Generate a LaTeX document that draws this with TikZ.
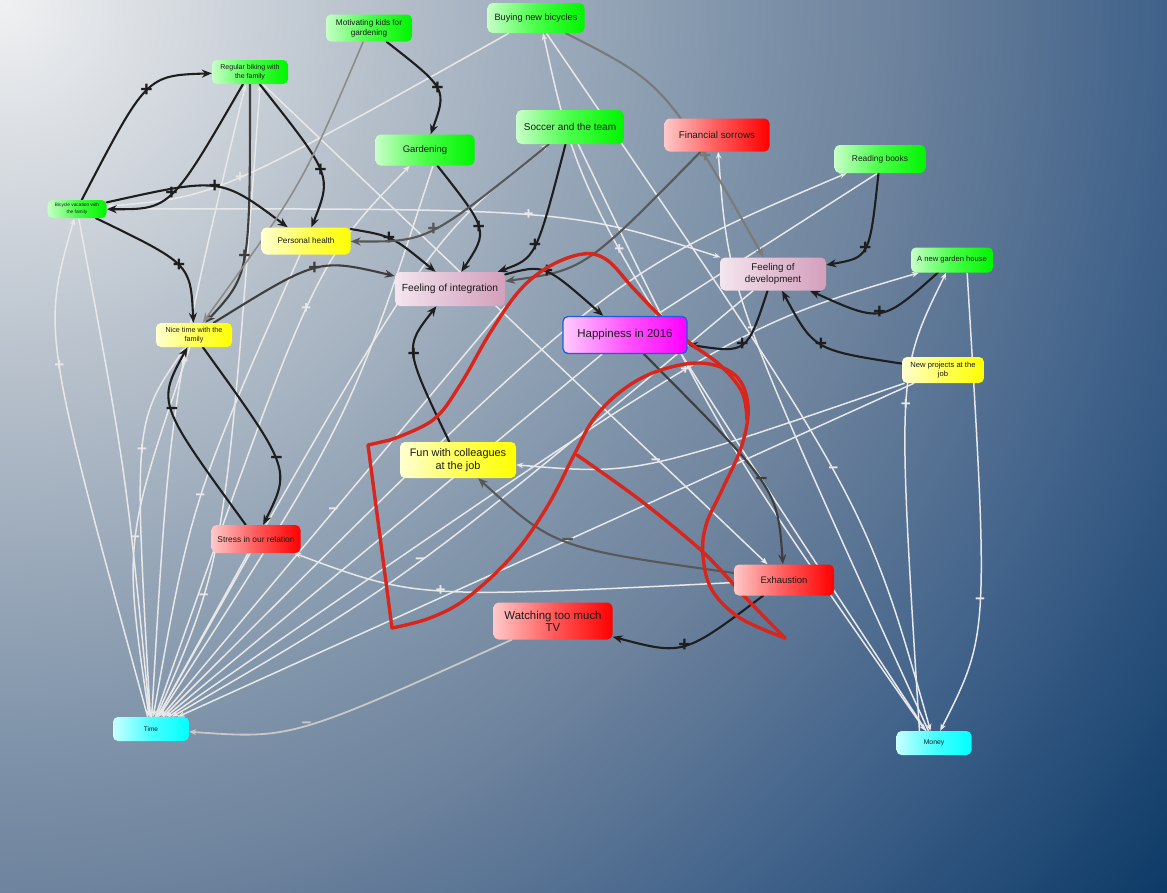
\documentclass[tikz,border=0pt]{standalone}
\usepackage{fontspec}
\setmainfont{Liberation Sans}
\usetikzlibrary{arrows.meta}
\pgfdeclarelayer{bglayer}
\pgfdeclarelayer{edgelayer}
\pgfsetlayers{bglayer,edgelayer,main}
\definecolor{bgA}{HTML}{F0F1F2}
\definecolor{bgB}{HTML}{B5BFCA}
\definecolor{bgC}{HTML}{8094AA}
\definecolor{bgD}{HTML}{6E839D}
\definecolor{bgE}{HTML}{3F6189}
\definecolor{bgF}{HTML}{0C3A66}
\definecolor{gL}{HTML}{C8FFC8}\definecolor{gM}{HTML}{48FF48}\definecolor{gR}{HTML}{00F500}
\definecolor{rL}{HTML}{FFC8C8}\definecolor{rM}{HTML}{FF5A5A}\definecolor{rR}{HTML}{FF0000}
\definecolor{yL}{HTML}{FFFFD2}\definecolor{yM}{HTML}{FFFF5A}\definecolor{yR}{HTML}{FFFF00}
\definecolor{pL}{HTML}{F4E6EE}\definecolor{pM}{HTML}{E2C0D4}\definecolor{pR}{HTML}{D49FBC}
\definecolor{mL}{HTML}{FFCCFF}\definecolor{mM}{HTML}{FF55FF}\definecolor{mR}{HTML}{FF00FF}\definecolor{mB}{HTML}{1A5FE0}
\definecolor{cL}{HTML}{C8FFFF}\definecolor{cM}{HTML}{48FFFF}\definecolor{cR}{HTML}{00FFFF}
\definecolor{txtc}{HTML}{1A1A1A}
\definecolor{blk}{HTML}{1E1E1E}
\definecolor{dgc}{HTML}{3E3E3E}
\definecolor{mgc}{HTML}{585858}
\definecolor{lgc}{HTML}{7A7A7A}
\definecolor{pgc}{HTML}{8C8C8C}
\definecolor{tvc}{HTML}{C8C8C8}
\definecolor{whc}{HTML}{E8E8E8}
\definecolor{redc}{HTML}{D8261C}
\pgfdeclareradialshading{bgrad}{\pgfpointorigin}{color(0bp)=(bgA); color(6.6bp)=(bgB); color(12.5bp)=(bgC); color(15.2bp)=(bgD); color(19.9bp)=(bgE); color(25bp)=(bgF); color(50bp)=(bgF)}
\newcommand\myfs[2]{\fontsize{#1}{#2}\selectfont}
\begin{document}
\begin{tikzpicture}[x=1pt,y=-1pt,
 box/.style={rounded corners=5pt, inner sep=1pt, align=center, text=txtc},
 grn/.style={box, left color=gL, right color=gR, middle color=gM},
 redb/.style={box, left color=rL, right color=rR, middle color=rM},
 yel/.style={box, left color=yL, right color=yR, middle color=yM},
 pnk/.style={box, left color=pL, right color=pR, middle color=pM},
 mag/.style={box, left color=mL, right color=mR, middle color=mM, draw=mB, line width=1.3pt},
 cyn/.style={box, left color=cL, right color=cR, middle color=cM},
 bl/.style={color=blk, line width=2.1pt, line cap=round, -{Stealth[length=10pt,width=8pt]}},
 dg/.style={bl, color=dgc},
 mg/.style={bl, color=mgc},
 lg/.style={bl, color=lgc},
 pg/.style={bl, color=pgc, line width=1.6pt},
 tvl/.style={bl, color=tvc, line width=1.8pt, -{Stealth[length=7pt,width=6pt]}},
 lab/.style={font=\myfs{21}{21}\bfseries, inner sep=0pt},
 wl/.style={color=whc, line width=1.5pt, -{Stealth[length=7pt,width=5.5pt]}},
 wlab/.style={font=\myfs{17}{17}\bfseries, inner sep=0pt},
 redl/.style={draw=redc, line width=3.4pt, line join=round, line cap=round}
]
\useasboundingbox (0,0) rectangle (1167,892);
\begin{pgfonlayer}{bglayer}
\begin{scope}
\clip (0,0) rectangle (1167,892);
\shade[shading=bgrad] (-1470,-1470) rectangle (1470,1470);
\end{scope}
\end{pgfonlayer}

% nodes
\node[grn, minimum width=86pt, minimum height=27pt, font=\myfs{8.2}{10}] (mot) at (369,28) {Motivating kids for\\gardening};
\node[grn, minimum width=97pt, minimum height=30pt, font=\myfs{9.2}{11}] (buy) at (536,18) {Buying new bicycles};
\node[grn, minimum width=76pt, minimum height=24pt, font=\myfs{7}{8.5}] (reg) at (250,72) {Regular biking with\\the family};
\node[grn, minimum width=107pt, minimum height=34pt, font=\myfs{10}{12}] (soc) at (570,127) {Soccer and the team};
\node[grn, minimum width=99pt, minimum height=31pt, font=\myfs{9.5}{12}] (gar) at (425,150) {Gardening};
\node[redb, minimum width=105pt, minimum height=33pt, font=\myfs{9.8}{12}] (fin) at (717,135) {Financial sorrows};
\node[grn, minimum width=91pt, minimum height=28pt, font=\myfs{8.4}{10}] (read) at (880,159) {Reading books};
\node[grn, minimum width=59pt, minimum height=18pt, font=\myfs{4.8}{7}] (bvac) at (77,209) {Bicycle vacation with\\the family};
\node[yel, minimum width=89pt, minimum height=27pt, font=\myfs{8.2}{10}] (ph) at (306,241) {Personal health};
\node[pnk, minimum width=110pt, minimum height=34pt, font=\myfs{10.3}{12}] (fint) at (450,289) {Feeling of integration};
\node[pnk, minimum width=106pt, minimum height=33pt, font=\myfs{9.8}{12}] (fdev) at (773,274) {Feeling of\\development};
\node[grn, minimum width=82pt, minimum height=25pt, font=\myfs{7.6}{9}] (gh) at (952,260) {A new garden house};
\node[mag, minimum width=124pt, minimum height=37pt, font=\myfs{11.5}{13}] (hap) at (625,335) {Happiness in 2016};
\node[yel, minimum width=76pt, minimum height=24pt, font=\myfs{7.2}{9}] (nice) at (194,335) {Nice time with the\\family};
\node[yel, minimum width=82pt, minimum height=26pt, font=\myfs{7.6}{9.5}] (newp) at (943,370) {New projects at the\\job};
\node[yel, minimum width=116pt, minimum height=36pt, font=\myfs{10.9}{12.5}] (fun) at (458,460) {Fun with colleagues\\at the job};
\node[redb, minimum width=89pt, minimum height=28pt, font=\myfs{8.4}{10}] (stress) at (256,539) {Stress in our relation};
\node[redb, minimum width=100pt, minimum height=31pt, font=\myfs{9.5}{12}] (exh) at (784,580) {Exhaustion};
\node[redb, minimum width=119pt, minimum height=37pt, font=\myfs{11.4}{12}] (tv) at (553,621) {Watching too much\\TV};
\node[cyn, minimum width=76pt, minimum height=24pt, font=\myfs{6.5}{8}] (time) at (151,729) {Time};
\node[cyn, minimum width=75pt, minimum height=24pt, font=\myfs{6.8}{8}] (money) at (934,743) {Money};

\begin{pgfonlayer}{edgelayer}
% white connectors
\draw[wl] (time) .. controls (42,331) .. (bvac) node[wlab,pos=.5]{+};
\draw[wl] (bvac) .. controls (126,471) .. (time);
\draw[wl] (time) .. controls (170,400) .. (reg.250) node[wlab,pos=.58]{+};
\draw[wl] (time) .. controls (225,560) .. (reg.310) node[wlab,pos=.31]{−};
\draw[wl] (buy) .. controls (217.5,196.5) .. (bvac) node[wlab,pos=.5]{+};
\draw[wl] (bvac) .. controls (567,208.5) .. (fdev) node[wlab,pos=.5]{+};
\draw[wl] (reg) -- (exh);
\draw[wl] (time) .. controls (314,264.5) .. (gar) node[wlab,pos=.5]{+};
\draw[wl] (gar.-63) .. controls (350,420) .. (time);
\draw[wl] (time) .. controls (425.5,242) .. (soc) node[wlab,pos=.5]{+};
\draw[wl] (money) .. controls (728.5,293) .. (fin) node[wlab,pos=.5]{−};
\draw[wl] (buy) .. controls (865,499.5) .. (money) node[wlab,pos=.5]{−};
\draw[wl] (money) .. controls (581,205.5) .. (buy.-65) node[wlab,pos=.5]{+};
\draw[wl] (soc) .. controls (718,435) .. (money);
\draw[wl] (fint.south east) -- (time) node[wlab,pos=.5]{−};
\draw[wl] (fdev) .. controls (406,580.5) .. (time) node[wlab,pos=.5]{−};
\draw[wl] (time) .. controls (732.5,327.5) .. (gh.-159) node[wlab,pos=.5]{+};
\draw[wl] (money.140) .. controls (897,372.5) .. (gh.-115) node[wlab,pos=.5]{+};
\draw[wl] (gh.-40) .. controls (989,634.5) .. (money) node[wlab,pos=.5]{−};
\draw[wl] (exh) .. controls (416,598.5) .. (stress) node[wlab,pos=.5]{+};
\draw[wl] (newp) .. controls (637.5,475) .. (fun) node[wlab,pos=.5]{−};
\draw[wl] (ph) .. controls (191.5,501) .. (time) node[wlab,pos=.5]{−};
\draw[wl] (time) .. controls (133.5,422) .. (nice) node[wlab,pos=.5]{+};
\draw[wl] (nice) .. controls (123.5,542) .. (time) node[wlab,pos=.5]{−};
\draw[wl] (stress) -- (time);
\draw[wl] (hap) -- (time);
\draw[wl] (newp) -- (time);
\draw[wl] (time) .. controls (604.5,276) .. (read);
\draw[wl] (read.-100) -- (hap);

% dark connectors
\draw[bl] (bvac) .. controls (146.5,75.5) .. (reg) node[lab,pos=.5]{+};
\draw[bl] (reg) .. controls (170.5,209.5) .. (bvac) node[lab,pos=.5]{+};
\draw[bl] (reg) .. controls (332,175.5) .. (ph) node[lab,pos=.5]{+};
\draw[dg] (reg) .. controls (250,274.5) .. (nice) node[lab,pos=.5]{+};
\draw[bl] (bvac) .. controls (220.5,177) .. (ph) node[lab,pos=.5]{+};
\draw[bl] (bvac) .. controls (190.5,264) .. (nice) node[lab,pos=.5]{+};
\draw[dg] (nice) .. controls (318,258) .. (fint) node[lab,pos=.5]{+};
\draw[bl] (ph.15) .. controls (392,236) .. (fint.130) node[lab,pos=.45]{+};
\draw[bl] (gar) .. controls (488.5,230.5) .. (fint) node[lab,pos=.5]{+};
\draw[bl] (soc) .. controls (536,258) .. (fint) node[lab,pos=.5]{+};
\draw[bl] (mot) .. controls (447,89) .. (gar) node[lab,pos=.5]{+};
\draw[mg] (soc) .. controls (428,242) .. (ph) node[lab,pos=.5]{+};
\draw[mg] (fin) .. controls (584.5,270) .. (fint) node[lab,pos=.5]{−};
\draw[lg] (buy) .. controls (665.5,84) .. (fdev) node[lab,pos=.75]{+};
\draw[bl] (read) .. controls (869.5,257.5) .. (fdev) node[lab,pos=.5]{+};
\draw[bl] (gh) .. controls (881.5,323) .. (fdev) node[lab,pos=.5]{+};
\draw[bl] (newp) .. controls (814,350) .. (fdev) node[lab,pos=.5]{+};
\draw[bl] (fdev) .. controls (747,353.5) .. (hap) node[lab,pos=.5]{+};
\draw[bl] (fint) .. controls (544.5,264) .. (hap) node[lab,pos=.5]{+};
\draw[bl] (fun) .. controls (404,347.5) .. (fint) node[lab,pos=.5]{+};
\draw[bl] (nice) .. controls (291,469) .. (stress) node[lab,pos=.5]{−};
\draw[bl] (stress) .. controls (157,403) .. (nice) node[lab,pos=.5]{−};
\draw[dg] (hap) .. controls (777.5,488.5) .. (exh) node[lab,pos=.5]{−};
\draw[mg] (exh) .. controls (555,548) .. (fun) node[lab,pos=.5]{−};
\draw[bl] (exh) .. controls (683.5,655.5) .. (tv) node[lab,pos=.5]{+};
\draw[tvl] (tv) .. controls (292,739) .. (time) node[wlab,pos=.5]{−};
\draw[pg] (mot) .. controls (302.5,184.5) .. (nice);

% red freehand outline
\draw[redl] plot[smooth, tension=.6] coordinates {(390,440) (433,420) (460,385) (490,333) (520,290) (550,266) (583,254) (607,260) (633,288) (662,318) (690,343) (720,365) (742,392) (747,420)};
\draw[redl] (390,440) -- (368,445) -- (392,628);
\draw[redl] plot[smooth, tension=.6] coordinates {(392,628) (430,618) (467,598) (513,555) (547,507) (573,457) (593,420) (620,392) (655,372) (700,363) (735,375) (748,405) (742,445) (722,490) (706,525) (703,556) (712,590) (740,618) (785,638)};
\draw[redl] plot[smooth, tension=.5] coordinates {(785,638) (745,597) (703,552) (640,500) (577,455)};
\end{pgfonlayer}
\end{tikzpicture}
\end{document}
